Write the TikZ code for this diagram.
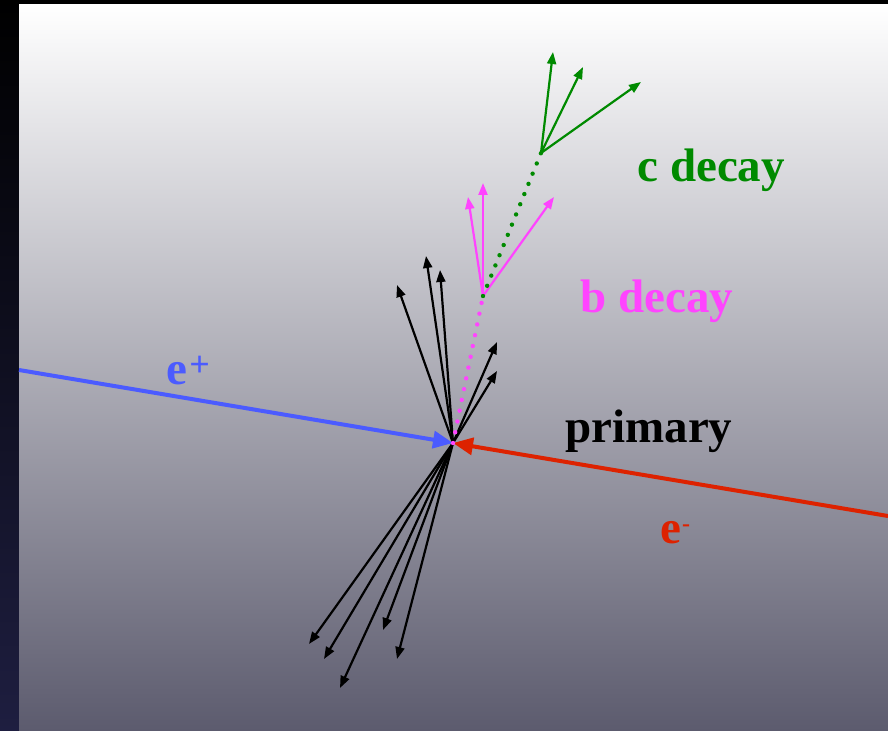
\documentclass[tikz,border=0pt]{standalone}
\usepackage{fontspec}
\setmainfont{Liberation Serif}
\usepackage{tikz}
\usetikzlibrary{arrows.meta}
\definecolor{cPos}{HTML}{4B5BFF}
\definecolor{cEle}{HTML}{DD2200}
\definecolor{cBq} {HTML}{FF44FF}
\definecolor{cCq} {HTML}{008A00}
\definecolor{cTop}{HTML}{FFFFFF}
\definecolor{cMid}{HTML}{B6B6BC}
\definecolor{cBot}{HTML}{5C5B6E}
\definecolor{cEdge}{HTML}{1E1E40}
\tikzset{
  beam/.style  ={line width=2pt,-{Triangle[length=10pt,width=8.5pt]}},
  trk/.style   ={line width=1.1pt,-{Triangle[length=6pt,width=4.5pt]}},
  flight/.style={line width=2.2pt,line cap=round,dash pattern=on 0pt off 5.5pt},
  lbl/.style   ={font=\fontsize{23.5}{26}\selectfont\bfseries,inner sep=0pt,
                 anchor=base west},
}

\begin{document}
\begin{tikzpicture}[x=0.5pt, y=-0.5pt]
\useasboundingbox (0,0) rectangle (888,731);

% backdrop
\shade[top color=black,bottom color=cEdge] (0,0) rectangle (19,731);
\fill[black] (0,0) rectangle (888,5);
\shade[top color=cTop,middle color=cMid,bottom color=cBot] (19,5) rectangle (888,731);

% vertices
\coordinate (pv) at (453,443);   % primary
\coordinate (bv) at (483,296);   % b decay
\coordinate (cv) at (541,153);   % c decay
\coordinate (ep) at (19,370);
\coordinate (em) at (888,516);

\foreach \i/\x/\y in {1/397/285,2/426/256,3/440/270,4/497/342,5/497/371,
                      6/309/644,7/324/659,8/340/688,9/383/630,10/397/659}
  \coordinate (p\i) at (\x,\y);
\foreach \i/\x/\y in {1/468/197,2/483/183,3/554/197}
  \coordinate (b\i) at (\x,\y);
\foreach \i/\x/\y in {1/553/52,2/583/67,3/641/82}
  \coordinate (c\i) at (\x,\y);

% beams
\draw[beam,cPos] (ep) -- (pv);
\draw[beam,cEle] (em) -- (pv);

% tracks
\foreach \i in {1,...,10} \draw[trk] (pv) -- (p\i);
\foreach \i in {1,2,3} \draw[trk,cBq] (bv) -- (b\i);
\foreach \i in {1,2,3} \draw[trk,cCq] (cv) -- (c\i);

% flight paths
\draw[flight,cBq] (pv) -- (bv);
\draw[flight,cCq] (bv) -- (cv);

\node[lbl,text=cCq]  (lc)  at (637,182) {c decay};
\node[lbl,text=cBq]  (lb)  at (580,313) {b decay};
\node[lbl]           (lp)  at (565,443) {primary};
\node[lbl,text=cEle] (lem) at (660,544)
  {e\kern0.4pt\raisebox{6pt}{\fontsize{12}{12}\selectfont -}};
\node[lbl,text=cPos] (lep) at (166,385)
  {e\kern1pt\raisebox{4.3pt}{\fontsize{18}{18}\selectfont +}};
\end{tikzpicture}
\end{document}
